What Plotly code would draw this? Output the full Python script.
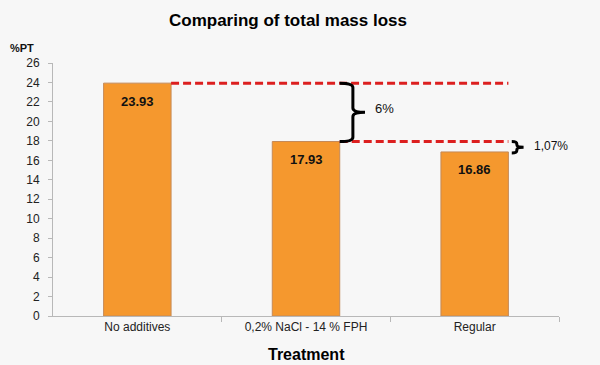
import plotly.graph_objects as go

categories = ["No additives", "0,2% NaCl - 14 % FPH", "Regular"]
values = [23.93, 17.93, 16.86]
value_labels = ["23.93", "17.93", "16.86"]
diff_labels = ["6%", "1,07%"]
y_ticks = list(range(0, 27, 2))

x = list(range(len(categories)))
BW = 0.40
bar_color = "#f5982e"
edge_color = "#c58a58"
red = "#dc1f1f"
FONT = "Liberation Sans, Arial"

fig = go.Figure()
fig.add_trace(go.Bar(
    x=x, y=values, width=BW,
    marker=dict(color=bar_color, line=dict(color=edge_color, width=1)),
    hoverinfo="skip",
))

shapes = []
line_end = x[2] + BW / 2
shapes.append(dict(type="line", xref="x", yref="y", x0=x[0] + BW / 2, x1=line_end,
                   y0=values[0], y1=values[0], line=dict(color=red, width=3, dash="8px,4px")))
shapes.append(dict(type="line", xref="x", yref="y", x0=x[1] + BW / 2, x1=line_end,
                   y0=values[1], y1=values[1], line=dict(color=red, width=3, dash="8px,4px")))


def brace(x0, xs, xt, ytop, ybot, r):
    ym = (ytop + ybot) / 2
    return (f"M {x0},{ytop} Q {xs},{ytop} {xs},{ytop - r} L {xs},{ym + r} "
            f"Q {xs},{ym} {xt},{ym} Q {xs},{ym} {xs},{ym - r} L {xs},{ybot + r} "
            f"Q {xs},{ybot} {x0},{ybot}")


shapes.append(dict(type="path", xref="x", yref="y",
                   path=brace(x[1] + BW / 2, 1.278, 1.35, values[0], values[1], 0.45),
                   line=dict(color="#000000", width=3)))
shapes.append(dict(type="path", xref="x", yref="y",
                   path=brace(line_end + 0.02, 2.25, 2.29, values[1], values[2] - 0.1, 0.25),
                   line=dict(color="#000000", width=3)))

annotations = [
    dict(x=1.40, y=21.3, xref="x", yref="y", text=diff_labels[0], showarrow=False,
         xanchor="left", yanchor="middle", font=dict(family=FONT, size=13, color="#111111")),
    dict(x=2.34, y=17.45, xref="x", yref="y", text=diff_labels[1], showarrow=False,
         xanchor="left", yanchor="middle", font=dict(family=FONT, size=12, color="#111111")),
    dict(x=(21 - 52.5) / 507, y=(316 - 48) / 253, xref="paper", yref="paper", text="<b>%PT</b>",
         showarrow=False, xanchor="center", yanchor="middle",
         font=dict(family=FONT, size=11, color="#111111")),
    dict(x=0.5, y=-38 / 253, xref="paper", yref="paper", text="<b>Treatment</b>",
         showarrow=False, xanchor="center", yanchor="middle",
         font=dict(family=FONT, size=16, color="#000000")),
]
for xi, v, lab in zip(x, values, value_labels):
    annotations.append(dict(x=xi, y=v, xref="x", yref="y", text=f"<b>{lab}</b>", showarrow=False,
                            xanchor="center", yanchor="middle", yshift=-18,
                            font=dict(family=FONT, size=13, color="#111111")))

fig.update_layout(
    width=600, height=365,
    margin=dict(l=52.5, r=40.5, t=63, b=49, autoexpand=False),
    paper_bgcolor="#f7f7f7", plot_bgcolor="#f7f7f7",
    showlegend=False,
    shapes=shapes, annotations=annotations,
    title=dict(text="<b>Comparing of total mass loss</b>", x=288 / 600, xref="container",
               xanchor="center", y=1 - 20 / 365, yanchor="middle",
               font=dict(family=FONT, size=17, color="#000000")),
    font=dict(family=FONT, size=12, color="#222222"),
)
fig.update_xaxes(
    range=[-0.5, 2.5], tickvals=x, ticktext=categories, ticks="", automargin=False,
    showline=True, linecolor="#b8b8b8", linewidth=1, showgrid=False, zeroline=False,
    minor=dict(tickvals=[0.5, 1.5, 2.5], ticks="outside", ticklen=5, tickcolor="#b8b8b8"),
    tickfont=dict(size=12, color="#222222"),
)
fig.update_yaxes(
    range=[0, 26], tickvals=y_ticks, ticks="outside", ticklen=4, tickcolor="#b8b8b8",
    automargin=False,
    showline=True, linecolor="#b8b8b8", linewidth=1, showgrid=False, zeroline=False,
    tickfont=dict(size=12, color="#222222"), ticklabelstandoff=6,
)

fig.write_html("out.html", config={"displayModeBar": False},
               post_script="document.body.style.margin='0';document.body.style.background='#f7f7f7';")
